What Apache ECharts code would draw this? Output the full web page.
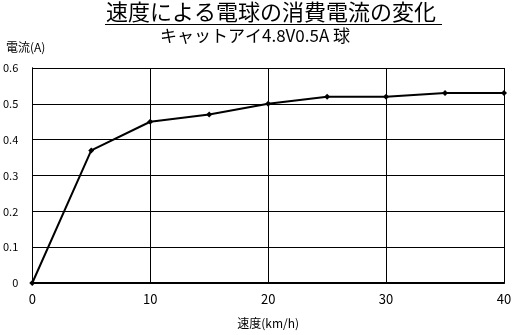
<!DOCTYPE html>
<html><head><meta charset="utf-8">
<script src="https://cdn.jsdelivr.net/npm/echarts@6/dist/echarts.min.js"></script>
<style>html,body{margin:0;padding:0;background:#fff}#c{width:518px;height:335px}</style>
</head><body><div id="c"></div>
<script>
const titleText = '速度による電球の消費電流の変化';
const subtitleText = 'キャットアイ4.8V0.5A 球';
const xName = '速度(km/h)';
const yName = '電流(A)';
const speeds = [0, 5, 10, 15, 20, 25, 30, 35, 40];
const currents = [0, 0.37, 0.45, 0.47, 0.50, 0.52, 0.52, 0.53, 0.53];

const font = '"Noto Sans CJK JP", sans-serif';
const chart = echarts.init(document.getElementById('c'));
chart.setOption({
  animation: false,
  backgroundColor: '#fff',
  title: [
    { text: titleText, left: 101, top: -4,
      textStyle: { fontFamily: font, fontSize: 22, fontWeight: 'normal', color: '#000' } },
    { text: subtitleText, left: 155, top: 22,
      textStyle: { fontFamily: font, fontSize: 17, fontWeight: 'normal', color: '#000' } },
    { text: yName, left: 1, top: 36,
      textStyle: { fontFamily: font, fontSize: 12, fontWeight: 'normal', color: '#000' } }
  ],
  graphic: [
    { type: 'line', shape: { x1: 105, y1: 24.5, x2: 442, y2: 24.5 }, style: { stroke: '#000', lineWidth: 1 } }
  ],
  grid: { left: 31, right: 14, top: 68, bottom: 52 },
  xAxis: [
    { type: 'value', min: 0, max: 40, interval: 10, position: 'bottom',
      name: xName, nameLocation: 'middle', nameGap: 34,
      nameTextStyle: { fontFamily: font, fontSize: 12, color: '#000' },
      axisLine: { lineStyle: { color: '#000', width: 1 } },
      axisTick: { show: false },
      axisLabel: { fontFamily: font, fontSize: 13, color: '#000', margin: 10 },
      splitLine: { show: true, lineStyle: { color: '#000', width: 1 } } },
    { type: 'value', min: 0, max: 40, interval: 10, position: 'top',
      axisLine: { show: true, lineStyle: { color: '#000', width: 2 } },
      axisTick: { show: false }, axisLabel: { show: false }, splitLine: { show: false } }
  ],
  yAxis: [
    { type: 'value', min: 0, max: 0.6, interval: 0.1,
      axisLine: { show: true, lineStyle: { color: '#000', width: 1 } },
      axisTick: { show: false },
      axisLabel: { fontFamily: font, fontSize: 11, color: '#000', margin: 14,
        formatter: v => (Math.round(v * 10) / 10).toString() },
      splitLine: { show: true, lineStyle: { color: '#000', width: 1 } } },
    { type: 'value', min: 0, max: 0.6, interval: 0.1, position: 'right',
      axisLine: { show: true, lineStyle: { color: '#000', width: 1 } },
      axisTick: { show: false }, axisLabel: { show: false }, splitLine: { show: false } }
  ],
  series: [{
    type: 'line',
    data: speeds.map((s, i) => [s, currents[i]]),
    symbol: 'diamond', symbolSize: 6,
    lineStyle: { color: '#000', width: 2 },
    itemStyle: { color: '#000' }
  }]
});
</script></body></html>
